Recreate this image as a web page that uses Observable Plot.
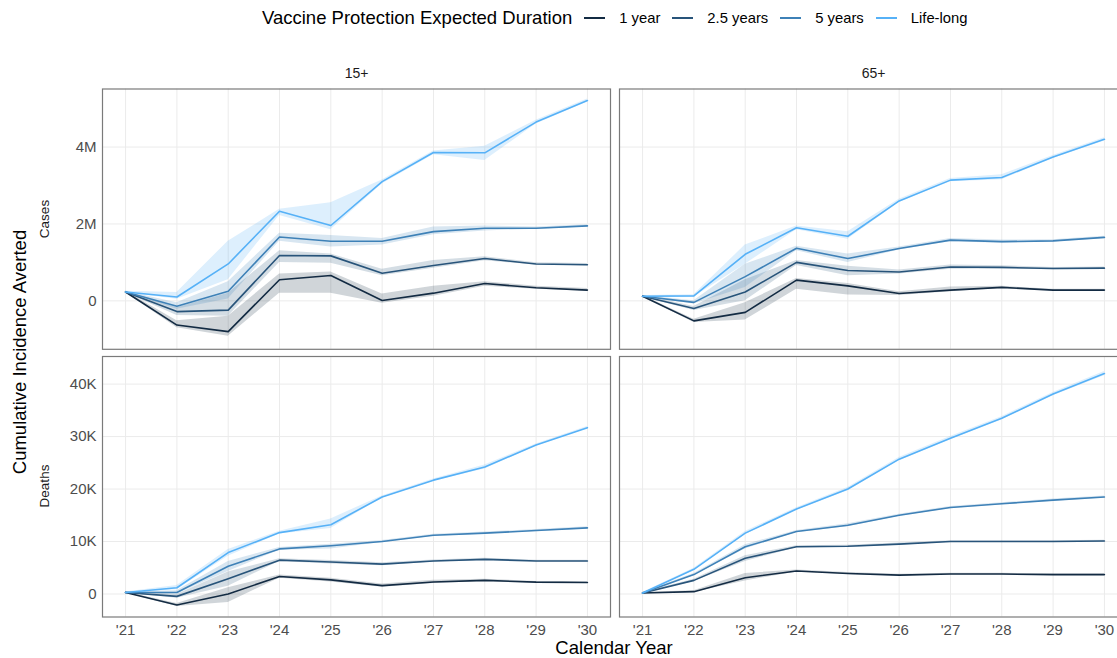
<!DOCTYPE html>
<html>
<head>
<meta charset="utf-8">
<script src="https://cdn.jsdelivr.net/npm/d3@7"></script>
<script src="https://cdn.jsdelivr.net/npm/@observablehq/plot@0.6"></script>
<style>
  html, body { margin: 0; padding: 0; background: #fff; }
  #root { position: relative; width: 1117px; height: 658px; overflow: hidden; font-family: "Liberation Sans", Arial, sans-serif; }
  #root svg { max-width: none !important; }
  .abs { position: absolute; }
  .rot { position: absolute; transform: translate(-50%, -50%) rotate(-90deg); white-space: nowrap; }
  #legend { position: absolute; left: 262px; top: 6px; height: 24px; display: flex; align-items: center; white-space: nowrap; color: #000; }
  #legend .ttl { font-size: 18.5px; margin-right: 12px; }
  #legend .sw { width: 21px; height: 2px; margin-right: 14px; }
  #legend .lb { font-size: 14.8px; margin-right: 12px; }
</style>
</head>
<body>
<div id="root"></div>
<script>
// ---------------- data ----------------
const years = [2021, 2022, 2023, 2024, 2025, 2026, 2027, 2028, 2029, 2030];
const ages = ["15+", "65+"];
const durations = ["1 year", "2.5 years", "5 years", "Life-long"];
const casesTicks = [0, 2, 4];          // millions
const deathsTicks = [0, 10, 20, 30, 40]; // thousands

// Cases, 15+ (millions)
const cases15_1y    = [0.23, -0.63, -0.80, 0.55, 0.66, 0.01, 0.20, 0.45, 0.34, 0.28];
const cases15_1y_lo = [0.21, -0.70, -0.92, 0.20, 0.20, -0.06, 0.12, 0.38, 0.30, 0.25];
const cases15_1y_hi = [0.25, -0.52, -0.40, 0.70, 0.75, 0.18, 0.38, 0.50, 0.38, 0.32];
const cases15_25y    = [0.23, -0.28, -0.24, 1.18, 1.17, 0.72, 0.92, 1.10, 0.96, 0.94];
const cases15_25y_lo = [0.21, -0.38, -0.40, 1.00, 0.98, 0.65, 0.85, 1.04, 0.93, 0.91];
const cases15_25y_hi = [0.25, -0.18, 0.20, 1.30, 1.22, 0.82, 1.05, 1.15, 0.99, 0.97];
const cases15_5y    = [0.23, -0.14, 0.25, 1.66, 1.55, 1.55, 1.80, 1.89, 1.89, 1.95];
const cases15_5y_lo = [0.21, -0.22, 0.05, 1.55, 1.40, 1.45, 1.72, 1.82, 1.86, 1.92];
const cases15_5y_hi = [0.25, -0.05, 0.50, 1.76, 1.70, 1.62, 1.92, 1.95, 1.92, 1.98];
const cases15_ll    = [0.23, 0.10, 0.96, 2.33, 1.96, 3.10, 3.86, 3.85, 4.65, 5.21];
const cases15_ll_lo = [0.21, 0.04, 0.55, 2.22, 1.85, 3.04, 3.80, 3.65, 4.60, 5.17];
const cases15_ll_hi = [0.25, 0.22, 1.55, 2.38, 2.55, 3.14, 3.90, 4.02, 4.70, 5.25];

// Cases, 65+ (millions)
const cases65_1y    = [0.12, -0.52, -0.30, 0.54, 0.39, 0.19, 0.28, 0.35, 0.28, 0.28];
const cases65_1y_lo = [0.10, -0.56, -0.50, 0.30, 0.15, 0.14, 0.24, 0.32, 0.26, 0.26];
const cases65_1y_hi = [0.14, -0.48, -0.05, 0.58, 0.45, 0.24, 0.36, 0.38, 0.30, 0.30];
const cases65_25y    = [0.12, -0.20, 0.23, 1.00, 0.79, 0.75, 0.88, 0.87, 0.84, 0.85];
const cases65_25y_lo = [0.10, -0.25, 0.00, 0.92, 0.65, 0.70, 0.82, 0.83, 0.81, 0.82];
const cases65_25y_hi = [0.14, -0.15, 0.55, 1.05, 0.90, 0.80, 0.93, 0.91, 0.87, 0.88];
const cases65_5y    = [0.12, -0.04, 0.63, 1.37, 1.10, 1.36, 1.58, 1.54, 1.56, 1.65];
const cases65_5y_lo = [0.10, -0.08, 0.35, 1.30, 1.00, 1.32, 1.54, 1.50, 1.53, 1.62];
const cases65_5y_hi = [0.14, 0.00, 0.95, 1.42, 1.22, 1.40, 1.62, 1.58, 1.59, 1.68];
const cases65_ll    = [0.12, 0.13, 1.21, 1.90, 1.68, 2.60, 3.14, 3.21, 3.74, 4.20];
const cases65_ll_lo = [0.10, 0.10, 0.95, 1.85, 1.60, 2.56, 3.10, 3.15, 3.70, 4.16];
const cases65_ll_hi = [0.14, 0.16, 1.45, 1.95, 1.80, 2.64, 3.18, 3.28, 3.78, 4.24];

// Deaths, 15+ (thousands)
const deaths15_1y    = [0.3, -2.1, 0.0, 3.35, 2.7, 1.6, 2.3, 2.6, 2.26, 2.2];
const deaths15_1y_lo = [0.2, -2.4, -1.6, 3.0, 2.3, 1.3, 2.0, 2.4, 2.1, 2.05];
const deaths15_1y_hi = [0.4, -1.8, 1.2, 3.6, 3.0, 1.9, 2.6, 2.8, 2.4, 2.35];
const deaths15_25y    = [0.3, -0.45, 2.9, 6.45, 6.1, 5.7, 6.3, 6.6, 6.3, 6.3];
const deaths15_25y_lo = [0.2, -0.8, 1.5, 6.2, 5.7, 5.4, 6.1, 6.4, 6.15, 6.15];
const deaths15_25y_hi = [0.4, -0.1, 4.2, 6.7, 6.4, 5.95, 6.5, 6.8, 6.45, 6.45];
const deaths15_5y    = [0.3, 0.3, 5.3, 8.6, 9.2, 10.0, 11.2, 11.6, 12.1, 12.6];
const deaths15_5y_lo = [0.2, 0.0, 4.3, 8.35, 8.6, 9.8, 11.0, 11.4, 11.9, 12.4];
const deaths15_5y_hi = [0.4, 0.6, 6.2, 8.85, 9.5, 10.2, 11.4, 11.8, 12.3, 12.8];
const deaths15_ll    = [0.3, 1.2, 7.9, 11.7, 13.2, 18.5, 21.7, 24.2, 28.4, 31.7];
const deaths15_ll_lo = [0.2, 0.8, 7.2, 11.45, 12.5, 18.3, 21.5, 23.8, 28.2, 31.5];
const deaths15_ll_hi = [0.4, 1.6, 8.5, 11.95, 14.3, 18.7, 21.9, 24.6, 28.6, 31.9];

// Deaths, 65+ (thousands)
const deaths65_1y    = [0.2, 0.45, 3.1, 4.4, 3.9, 3.6, 3.8, 3.8, 3.7, 3.7];
const deaths65_1y_lo = [0.1, 0.3, 2.5, 4.2, 3.7, 3.45, 3.65, 3.65, 3.55, 3.55];
const deaths65_1y_hi = [0.3, 0.6, 3.9, 4.6, 4.1, 3.75, 3.95, 3.95, 3.85, 3.85];
const deaths65_25y    = [0.2, 2.6, 6.8, 9.0, 9.1, 9.5, 10.0, 10.0, 10.0, 10.1];
const deaths65_25y_lo = [0.1, 2.4, 6.2, 8.8, 8.9, 9.3, 9.85, 9.85, 9.85, 9.95];
const deaths65_25y_hi = [0.3, 2.8, 7.3, 9.2, 9.3, 9.7, 10.15, 10.15, 10.15, 10.25];
const deaths65_5y    = [0.2, 3.7, 9.0, 11.9, 13.1, 15.0, 16.5, 17.2, 17.9, 18.5];
const deaths65_5y_lo = [0.1, 3.5, 8.6, 11.7, 12.8, 14.8, 16.3, 17.0, 17.7, 18.3];
const deaths65_5y_hi = [0.3, 3.9, 9.4, 12.1, 13.4, 15.2, 16.7, 17.4, 18.1, 18.7];
const deaths65_ll    = [0.2, 4.7, 11.6, 16.2, 20.0, 25.7, 29.7, 33.5, 38.1, 42.0];
const deaths65_ll_lo = [0.1, 4.5, 11.3, 15.95, 19.7, 25.4, 29.4, 33.2, 37.8, 41.6];
const deaths65_ll_hi = [0.3, 4.9, 11.9, 16.45, 20.3, 26.0, 30.0, 33.8, 38.4, 42.4];

// ---------------- tidy tables ----------------
function tidy(groups) {
  const rows = [];
  for (const [age, dur, v, lo, hi] of groups)
    years.forEach((yr, i) => rows.push({age, dur, year: yr, v: v[i], lo: lo[i], hi: hi[i]}));
  return rows;
}
const casesData = tidy([
  ["15+", "1 year", cases15_1y, cases15_1y_lo, cases15_1y_hi],
  ["15+", "2.5 years", cases15_25y, cases15_25y_lo, cases15_25y_hi],
  ["15+", "5 years", cases15_5y, cases15_5y_lo, cases15_5y_hi],
  ["15+", "Life-long", cases15_ll, cases15_ll_lo, cases15_ll_hi],
  ["65+", "1 year", cases65_1y, cases65_1y_lo, cases65_1y_hi],
  ["65+", "2.5 years", cases65_25y, cases65_25y_lo, cases65_25y_hi],
  ["65+", "5 years", cases65_5y, cases65_5y_lo, cases65_5y_hi],
  ["65+", "Life-long", cases65_ll, cases65_ll_lo, cases65_ll_hi]
]);
const deathsData = tidy([
  ["15+", "1 year", deaths15_1y, deaths15_1y_lo, deaths15_1y_hi],
  ["15+", "2.5 years", deaths15_25y, deaths15_25y_lo, deaths15_25y_hi],
  ["15+", "5 years", deaths15_5y, deaths15_5y_lo, deaths15_5y_hi],
  ["15+", "Life-long", deaths15_ll, deaths15_ll_lo, deaths15_ll_hi],
  ["65+", "1 year", deaths65_1y, deaths65_1y_lo, deaths65_1y_hi],
  ["65+", "2.5 years", deaths65_25y, deaths65_25y_lo, deaths65_25y_hi],
  ["65+", "5 years", deaths65_5y, deaths65_5y_lo, deaths65_5y_hi],
  ["65+", "Life-long", deaths65_ll, deaths65_ll_lo, deaths65_ll_hi]
]);

// ---------------- styling ----------------
const lab = d3.interpolateLab("#132B43", "#56B1F7");
const colors = [lab(0), lab(1 / 3), lab(2 / 3), lab(1)];
const FONT = "Liberation Sans, Arial, Helvetica, sans-serif";
const root = document.getElementById("root");

function row({data, domain, ticks, fmt, top, height, marginTop, marginBottom, showFacetLabels, showX}) {
  const marks = [
    Plot.gridX(years, {stroke: "#ebebeb", strokeOpacity: 1, strokeWidth: 1}),
    Plot.gridY(ticks, {stroke: "#ebebeb", strokeOpacity: 1, strokeWidth: 1}),
    Plot.areaY(data, {x: "year", y1: "lo", y2: "hi", fx: "age", z: "dur", fill: "dur", fillOpacity: 0.2}),
    Plot.line(data, {x: "year", y: "v", fx: "age", z: "dur", stroke: "dur", strokeWidth: 1.6}),
    Plot.frame({stroke: "#7a7a7a", strokeWidth: 1.2}),
    Plot.axisY(ticks, {anchor: "left", facetAnchor: "left", tickSize: 0, tickPadding: 6, tickFormat: fmt, fontSize: 15, fill: "#4d4d4d", label: null})
  ];
  if (showFacetLabels)
    marks.push(Plot.text(ages, {fx: d => d, text: d => d, frameAnchor: "top", dy: -15.5, lineAnchor: "middle", fontSize: 14, fill: "#1a1a1a"}));
  if (showX)
    marks.push(Plot.axisX(years, {anchor: "bottom", tickSize: 0, tickPadding: 7, tickFormat: d => "'" + String(d).slice(2), fontSize: 15, fill: "#4d4d4d", label: null}));
  const svg = Plot.plot({
    width: 1128, height, marginLeft: 102, marginRight: 1, marginTop, marginBottom,
    style: {fontFamily: FONT, fontSize: "15px", background: "transparent", overflow: "visible", maxWidth: "none"},
    fx: {domain: ages, paddingInner: 9 / 517, paddingOuter: 0, axis: null, label: null},
    x: {domain: [2020.55, 2030.45], axis: null},
    y: {domain, axis: null},
    color: {domain: durations, range: colors},
    marks
  });
  svg.style.position = "absolute";
  svg.style.left = "0px";
  svg.style.top = top + "px";
  svg.style.maxWidth = "none";
  svg.style.width = "1128px";
  svg.style.height = height + "px";
  root.appendChild(svg);
}

row({data: casesData, domain: [-1.26, 5.51], ticks: casesTicks, fmt: d => d === 0 ? "0" : d + "M",
     top: 0, height: 349, marginTop: 88.5, marginBottom: 0.2, showFacetLabels: true, showX: false});
row({data: deathsData, domain: [-4.38, 45.26], ticks: deathsTicks, fmt: d => d === 0 ? "0" : d + "K",
     top: 340, height: 318, marginTop: 16, marginBottom: 41.5, showFacetLabels: false, showX: true});

// ---------------- text labels & legend ----------------
function label(text, x, y, size, rotate, color) {
  const el = document.createElement("div");
  el.className = rotate ? "rot" : "abs";
  el.textContent = text;
  el.style.left = x + "px";
  el.style.top = y + "px";
  el.style.fontSize = size + "px";
  el.style.color = color || "#000";
  if (!rotate) el.style.transform = "translate(-50%, -50%)";
  el.style.whiteSpace = "nowrap";
  root.appendChild(el);
}
label("Cumulative Incidence Averted", 20, 352, 18.5, true);
label("Cases", 44, 219, 13.5, true, "#1a1a1a");
label("Deaths", 44, 486, 13.5, true, "#1a1a1a");
label("Calendar Year", 614, 648, 18.5, false);

const legend = document.createElement("div");
legend.id = "legend";
const t = document.createElement("span");
t.className = "ttl";
t.textContent = "Vaccine Protection Expected Duration";
legend.appendChild(t);
durations.forEach((d, i) => {
  const sw = document.createElement("span");
  sw.className = "sw";
  sw.style.background = colors[i];
  legend.appendChild(sw);
  const lb = document.createElement("span");
  lb.className = "lb";
  lb.textContent = d;
  legend.appendChild(lb);
});
root.appendChild(legend);
</script>
</body>
</html>
